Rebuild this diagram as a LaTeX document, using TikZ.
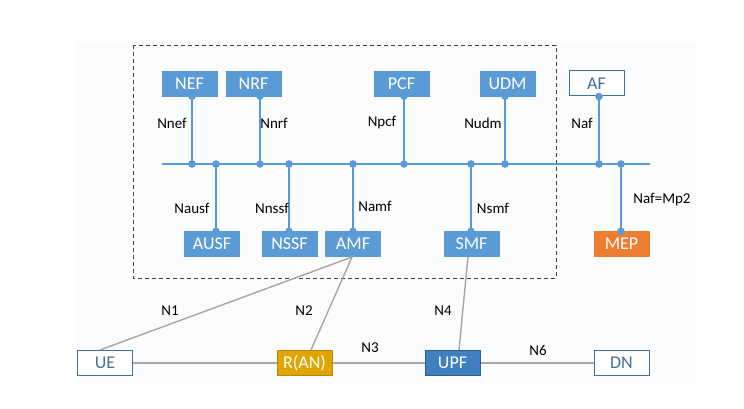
\documentclass[tikz,border=0pt]{standalone}
\usepackage{fontspec}
\setmainfont{Carlito}
\definecolor{nfblue}{HTML}{5B9BD5}
\definecolor{outl}{HTML}{41719C}
\definecolor{upfblue}{HTML}{4080C0}
\definecolor{upfedge}{HTML}{2F5F8F}
\definecolor{rangold}{HTML}{E0A500}
\definecolor{ranedge}{HTML}{B8860B}
\definecolor{mepor}{HTML}{ED7D31}
\definecolor{greyline}{HTML}{A6A6A6}
\definecolor{panel}{HTML}{FBFCFE}
\begin{document}
\begin{tikzpicture}[x=1pt,y=-1pt,
  nfbox/.style={fill=nfblue,draw=nfblue,text=white,minimum width=55pt,minimum height=25pt,inner sep=0pt,font=\fontsize{18}{18}\selectfont},
  outbox/.style={fill=white,draw=outl,line width=1pt,text=outl,minimum width=55pt,minimum height=25pt,inner sep=0pt,font=\fontsize{18}{18}\selectfont},
  lbl/.style={font=\fontsize{15}{16}\selectfont,text=black,inner sep=0pt},
  bus/.style={draw=nfblue,line width=1.8pt},
  dotc/.style={fill=nfblue},
  gline/.style={draw=greyline,line width=1.4pt}]
\useasboundingbox (0,0) rectangle (744,409);
\fill[panel] (77,42) rectangle (697,383);
% dashed frame
\draw[dashed,dash pattern=on 4pt off 3pt,line width=0.9pt,black!75] (133,45) rectangle (556,278);
% top boxes
\node[nfbox] (nef) at (189.5,83.5) {NEF};
\node[nfbox] (nrf) at (253.5,83.5) {NRF};
\node[nfbox] (pcf) at (401.5,83.5) {PCF};
\node[nfbox] (udm) at (507.5,83.5) {UDM};
\node[outbox] (af) at (596.5,83.5) {AF};
% bottom boxes
\node[nfbox] (ausf) at (212,244) {AUSF};
\node[nfbox] (nssf) at (289.5,244) {NSSF};
\node[nfbox] (amf) at (353,244) {AMF};
\node[nfbox] (smf) at (471.5,244) {SMF};
\node[nfbox,fill=mepor,draw=mepor] (mep) at (621.5,244) {MEP};
% bottom row
\node[outbox] (ue) at (105,363) {UE};
\node[nfbox,fill=rangold,draw=ranedge,line width=1pt] (ran) at (304.5,363) {R(AN)};
\node[nfbox,fill=upfblue,draw=upfedge,line width=1pt] (upf) at (452.5,363) {UPF};
\node[outbox] (dn) at (621.5,363) {DN};
% bus
\coordinate (bl) at (162,164);
\coordinate (br) at (650,164);
\coordinate (pnef) at (192,164);
\coordinate (pausf) at (216,164);
\coordinate (pnrf) at (260,164);
\coordinate (pnssf) at (289,164);
\coordinate (pamf) at (353,164);
\coordinate (ppcf) at (404,164);
\coordinate (psmf) at (471,164);
\coordinate (pudm) at (505,164);
\coordinate (paf) at (599,164);
\coordinate (pmep) at (621,164);
\draw[bus] (bl) -- (br);
\foreach \p/\b/\a in {pnef/nef/south,pnrf/nrf/south,ppcf/pcf/south,pudm/udm/south,paf/af/south,pausf/ausf/north,pnssf/nssf/north,pamf/amf/north,psmf/smf/north,pmep/mep/north}{
  \draw[bus,line width=1.5pt] (\p) -- (\b.\a -| \p);
  \fill[dotc] (\p) circle (3.8pt);
  \fill[dotc] (\b.\a -| \p) circle (3.8pt);
}
% labels
\node[lbl] (lnef) at (172,123) {Nnef};
\node[lbl] (lnrf) at (274,123) {Nnrf};
\node[lbl] (lpcf) at (382,123) {Npcf};
\node[lbl] (ludm) at (483,123) {Nudm};
\node[lbl] (laf) at (582,123) {Naf};
\node[lbl] (lausf) at (192,208) {Nausf};
\node[lbl] (lnssf) at (272,208) {Nnssf};
\node[lbl] (lamf) at (375,206) {Namf};
\node[lbl] (lsmf) at (493,208) {Nsmf};
\node[lbl] (lmep) at (662,200) {Naf=Mp2};
% grey connectors
\coordinate (amfb) at (352,257);
\draw[gline] (amfb) -- (ue.north -| 100,0);
\draw[gline] (amfb) -- (ran.north -| 311,0);
\draw[gline] (smf.south -| 468,0) -- (upf.north -| 459,0);
\draw[gline] (ue) -- (ran);
\draw[gline] (ran) -- (upf);
\draw[gline] (upf) -- (dn);
\node[lbl] (n1) at (170,311) {N1};
\node[lbl] (n2) at (304,311) {N2};
\node[lbl] (n3) at (370,348) {N3};
\node[lbl] (n4) at (443,311) {N4};
\node[lbl] (n6) at (538,350) {N6};
\end{tikzpicture}
\end{document}
